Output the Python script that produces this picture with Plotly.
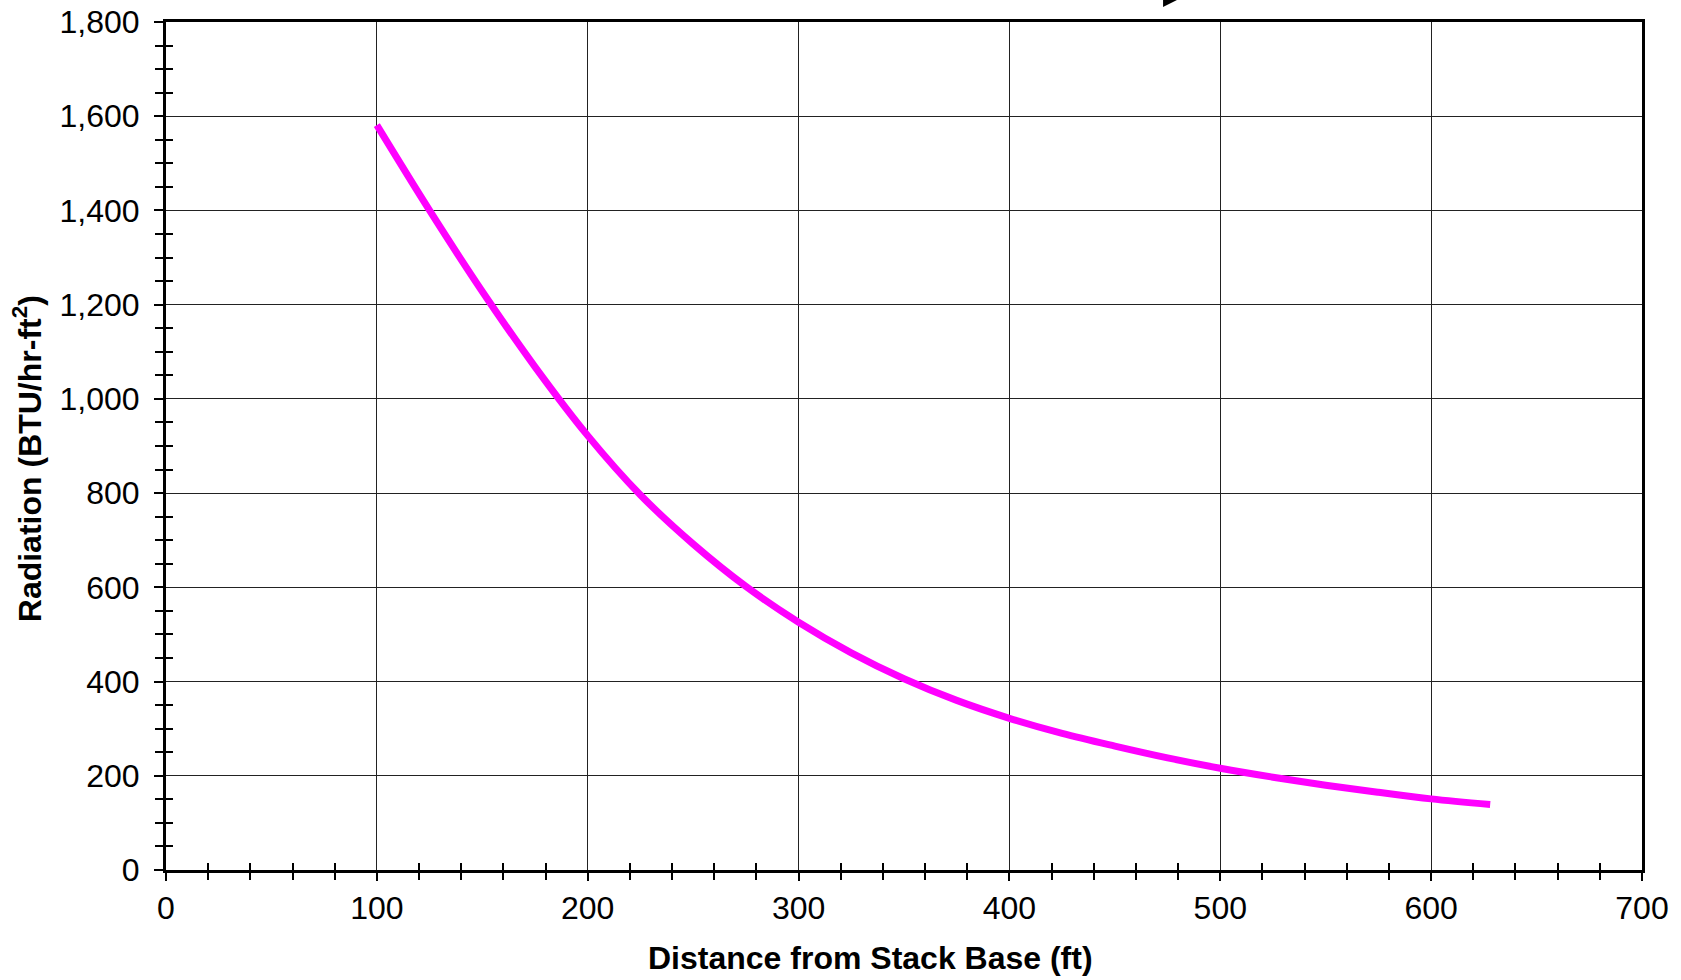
import plotly.graph_objects as go

# Data
distance_ft = [100, 125, 150, 175, 200, 225, 250, 275, 300, 325, 350, 375,
               400, 425, 450, 475, 500, 525, 550, 575, 600, 628]
radiation = [1581, 1400, 1228, 1068, 922, 796, 692, 602, 526, 461, 406, 360,
             322, 290, 263, 238, 216, 197, 180, 165, 151, 139]

x_range = [0, 700]
y_range = [0, 1800]
x_tickvals = [0, 100, 200, 300, 400, 500, 600, 700]
y_tickvals = [0, 200, 400, 600, 800, 1000, 1200, 1400, 1600, 1800]
y_ticktext = ["0", "200", "400", "600", "800", "1,000", "1,200", "1,400", "1,600", "1,800"]
x_title = "Distance from Stack Base (ft)"
y_title = "Radiation (BTU/hr-ft<sup>2</sup>)"

FONT = "Liberation Sans, Arial, sans-serif"
FS = 32
GRID = "#222222"

fig = go.Figure()
fig.add_trace(go.Scatter(
    x=distance_ft, y=radiation, mode="lines",
    line=dict(color="#FF00FF", width=7, shape="spline", smoothing=1.0),
    showlegend=False, hoverinfo="x+y",
))
# helper (invisible) trace so the overlay axes with inside minor ticks are drawn
fig.add_trace(go.Scatter(
    x=distance_ft[:1], y=radiation[:1], mode="markers", xaxis="x2", yaxis="y2",
    marker=dict(opacity=0), showlegend=False, hoverinfo="skip",
))

fig.update_layout(
    width=1681, height=980,
    paper_bgcolor="white", plot_bgcolor="white",
    margin=dict(l=166, r=39, t=22, b=110, autoexpand=False),
    font=dict(family=FONT, color="black", size=FS),
    xaxis=dict(
        range=x_range, tickvals=x_tickvals, ticks="outside", ticklen=8,
        tickwidth=1.5, tickcolor="black", automargin=False,
        ticklabeloverflow="allow",
        showline=True, linecolor="black", linewidth=3, mirror=True,
        showgrid=True, gridcolor=GRID, gridwidth=1.1, zeroline=False,
        minor=dict(dtick=20, ticks="outside", ticklen=7, tickwidth=1.5,
                   tickcolor="black", showgrid=False),
        tickfont=dict(size=FS, family=FONT),
        fixedrange=True,
    ),
    yaxis=dict(
        range=y_range, tickvals=y_tickvals, ticktext=y_ticktext,
        ticks="outside", ticklen=9, tickwidth=1.5, tickcolor="black",
        automargin=False, ticklabelstandoff=8, ticklabeloverflow="allow",
        showline=True, linecolor="black", linewidth=3, mirror=True,
        showgrid=True, gridcolor=GRID, gridwidth=1.1, zeroline=False,
        minor=dict(dtick=50, ticks="outside", ticklen=8, tickwidth=1.5,
                   tickcolor="black", showgrid=False),
        tickfont=dict(size=FS, family=FONT),
        fixedrange=True,
    ),
    xaxis2=dict(
        overlaying="x", anchor="y2", range=x_range, showgrid=False,
        showline=False, zeroline=False, showticklabels=False, ticks="",
        automargin=False,
        minor=dict(dtick=20, ticks="inside", ticklen=7, tickwidth=1.5,
                   tickcolor="black", showgrid=False),
        fixedrange=True,
    ),
    yaxis2=dict(
        overlaying="y", anchor="x2", range=y_range, showgrid=False,
        showline=False, zeroline=False, showticklabels=False, ticks="",
        automargin=False,
        minor=dict(dtick=50, ticks="inside", ticklen=7, tickwidth=1.5,
                   tickcolor="black", showgrid=False),
        fixedrange=True,
    ),
    annotations=[
        dict(text="<b>" + x_title + "</b>", xref="paper", yref="paper",
             x=0.4774, y=-0.104, xanchor="center", yanchor="middle",
             showarrow=False, font=dict(size=FS, family=FONT, color="black")),
        dict(text="<b>" + y_title + "</b>", xref="paper", yref="paper",
             x=-0.094, y=0.4847, xanchor="center", yanchor="middle",
             textangle=-90, showarrow=False,
             font=dict(size=FS, family=FONT, color="black")),
    ],
    shapes=[dict(
        type="path", xref="paper", yref="paper",
        path="M 0.6755 1.026 L 0.6850 1.026 L 0.6755 1.0177 Z",
        fillcolor="black", line=dict(width=0),
    )],
)

# remove the page's default 8px body margin so the figure fills the window
fig.write_html(
    "out.html",
    config={"displayModeBar": False},
    post_script="document.body.style.margin='0';document.body.style.overflow='hidden';",
)
